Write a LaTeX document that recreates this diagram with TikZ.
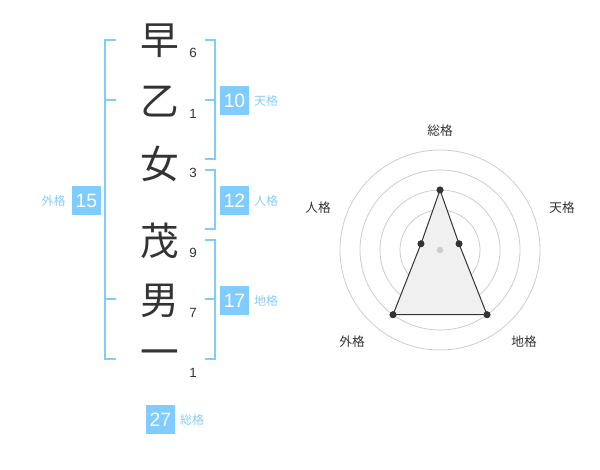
\documentclass[tikz,border=0pt]{standalone}
\usepackage{fontspec}
\setmainfont{Liberation Sans}
\newfontfamily\cjk{Noto Sans CJK JP}
\definecolor{boxblue}{RGB}{128,204,255}
\definecolor{lblblue}{RGB}{135,205,245}
\definecolor{ink}{RGB}{51,51,51}
\definecolor{ring}{RGB}{204,204,204}
\definecolor{polyfill}{RGB}{240,240,240}
\begin{document}
\begin{tikzpicture}[x=0.75pt,y=-0.75pt,
  bigch/.style={inner sep=0pt,text=ink,font=\cjk\fontsize{29}{29}\selectfont},
  strk/.style={inner sep=0pt,text=ink,font=\fontsize{10}{10}\selectfont},
  numbox/.style={fill=boxblue,text=white,inner sep=0pt,minimum width=21.75pt,minimum height=21.75pt,font=\fontsize{14.5}{14.5}\selectfont},
  kaku/.style={inner sep=0pt,text=lblblue,font=\cjk\fontsize{9}{9}\selectfont},
  brk/.style={draw=boxblue,line width=1.5pt},
  rlab/.style={inner sep=0pt,text=ink,font=\cjk\fontsize{9.5}{9.5}\selectfont},
  rring/.style={draw=ring,line width=0.6pt},
  rdot/.style={circle,fill=ink,inner sep=0pt,minimum size=5pt},
]
\useasboundingbox (0,0) rectangle (600,470);

% names
\node[bigch] (c1) at (160,41) {早};
\node[bigch] (c2) at (160,101.5) {乙};
\node[bigch] (c3) at (160,164) {女};
\node[bigch] (c4) at (160,241) {茂};
\node[bigch] (c5) at (160,300.5) {男};
\node[bigch] (c6) at (160,358) {一};

\node[strk] (s1) at (193,53) {6};
\node[strk] (s2) at (193,114) {1};
\node[strk] (s3) at (193,173) {3};
\node[strk] (s4) at (193,253) {9};
\node[strk] (s5) at (193,313) {7};
\node[strk] (s6) at (193,373) {1};

% brackets
\draw[brk] (116,40) -- (105,40) -- (105,359) -- (116,359);
\draw[brk] (105,100) -- (116,100);
\draw[brk] (105,299) -- (116,299);

\draw[brk] (205,40) -- (215,40) -- (215,159) -- (205,159);
\draw[brk] (215,100) -- (205,100);
\draw[brk] (205,170) -- (215,170) -- (215,229) -- (205,229);
\draw[brk] (205,240) -- (215,240) -- (215,359) -- (205,359);
\draw[brk] (215,299) -- (205,299);

% boxes and labels
\node[numbox] (b15) at (86.5,200.5) {15};
\node[kaku] (l15) at (53.5,201) {外格};
\node[numbox] (b10) at (234.5,100.5) {10};
\node[kaku] (l10) at (266,101) {天格};
\node[numbox] (b12) at (234.5,200.5) {12};
\node[kaku] (l12) at (266,201) {人格};
\node[numbox] (b17) at (234.5,300.5) {17};
\node[kaku] (l17) at (266,301) {地格};
\node[numbox] (b27) at (160.5,419.5) {27};
\node[kaku] (l27) at (192,420) {総格};

% radar
\coordinate (ctr) at (440,250);
\foreach \r in {20,40,60,80,100} {
  \draw[rring] (ctr) circle[radius=\r];
}
\node[rdot] (pS) at (440,190) {};
\node[rdot] (pT) at (459.0,243.8) {};
\node[rdot] (pC) at (487.0,314.7) {};
\node[rdot] (pG) at (393.0,314.7) {};
\node[rdot] (pJ) at (421.0,243.8) {};
\fill[polyfill] (pS.center) -- (pT.center) -- (pC.center) -- (pG.center) -- (pJ.center) -- cycle;
\fill[ring] (ctr) circle[radius=3.2];
\draw[ink,line width=0.75pt] (pS.center) -- (pT.center) -- (pC.center) -- (pG.center) -- (pJ.center) -- cycle;
\foreach \p in {pS,pT,pC,pG,pJ} { \fill[ink] (\p) circle[radius=3.5]; }

\node[rlab] (rS) at (440,131) {総格};
\node[rlab] (rT) at (562,208) {天格};
\node[rlab] (rC) at (524,342) {地格};
\node[rlab] (rG) at (352,342) {外格};
\node[rlab] (rJ) at (318,208) {人格};
\end{tikzpicture}
\end{document}
